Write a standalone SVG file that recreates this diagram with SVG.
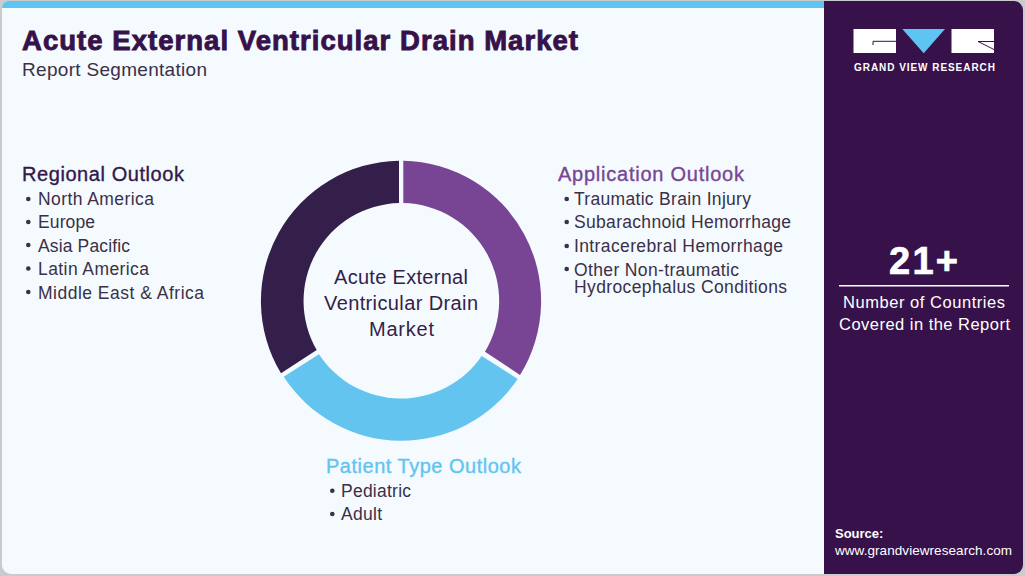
<svg xmlns="http://www.w3.org/2000/svg" width="1025" height="576" viewBox="0 0 1025 576">
<style>
text{font-family:"Liberation Sans",Arial,sans-serif}
.h{font-size:20px;stroke-width:.35px}
.i{font-size:17.5px;fill:#3a3048}
.b{fill:#3a3048}
.c{font-size:20px;fill:#341e4a;text-anchor:middle}
.w{fill:#fff;text-anchor:middle}
</style>
<rect width="1025" height="576" fill="#c9cbcc"/>
<rect x="2" y="1" width="1021" height="573" rx="9" fill="#f4fafd"/>
<path d="M2 9V8a7 7 0 0 1 7-7H824V8H2z" fill="#5ec5f2"/>
<path d="M824 1H1014a9 9 0 0 1 9 9V565a9 9 0 0 1-9 9H824z" fill="#37114a"/>
<text x="22" y="50" font-size="27.5" font-weight="700" fill="#37114a" stroke="#37114a" stroke-width=".9" textLength="556" lengthAdjust="spacing">Acute External Ventricular Drain Market</text>
<text x="22" y="76" font-size="19" fill="#3a3048" textLength="185">Report Segmentation</text>
<g id="connectors"></g>
<g id="donut">
<path fill="#784595" d="M403.300 160.700A140.300 140.300 0 0 1 520 375L485 351.700A98 98 0 0 0 403.300 203z"/>
<path fill="#63c4f0" d="M517.700 379A140.300 140.300 0 0 1 283.700 376.700L319 354.300A98 98 0 0 0 481.700 356z"/>
<path fill="#341e4a" d="M281 373.300A140.300 140.300 0 0 1 399 160.700V203A98 98 0 0 0 316.700 350z"/>
<text class="c" x="401" y="284" textLength="134">Acute External</text>
<text class="c" x="401" y="310" textLength="154">Ventricular Drain</text>
<text class="c" x="401.500" y="336" textLength="65">Market</text>
</g>
<g id="regional">
<text class="h" x="22" y="181" fill="#32194a" stroke="#32194a" textLength="162">Regional Outlook</text>
<circle class="b" cx="28.300" cy="199" r="2.300"/><text class="i" x="38" y="205" textLength="116">North America</text>
<circle class="b" cx="28.300" cy="222" r="2.300"/><text class="i" x="38" y="228" textLength="57">Europe</text>
<circle class="b" cx="28.300" cy="245" r="2.300"/><text class="i" x="38" y="252" textLength="92">Asia Pacific</text>
<circle class="b" cx="28.300" cy="268.500" r="2.300"/><text class="i" x="38" y="275" textLength="111">Latin America</text>
<circle class="b" cx="28.300" cy="292" r="2.300"/><text class="i" x="38" y="299" textLength="166">Middle East &amp; Africa</text>
</g>
<g id="application">
<text class="h" x="558" y="181" fill="#784595" stroke="#784595" textLength="186">Application Outlook</text>
<circle class="b" cx="566.700" cy="199" r="2.300"/><text class="i" x="574" y="205" textLength="177">Traumatic Brain Injury</text>
<circle class="b" cx="566.700" cy="222" r="2.300"/><text class="i" x="574" y="228" textLength="217">Subarachnoid Hemorrhage</text>
<circle class="b" cx="566.700" cy="246" r="2.300"/><text class="i" x="574" y="252" textLength="209">Intracerebral Hemorrhage</text>
<circle class="b" cx="566.700" cy="269" r="2.300"/><text class="i" x="574" y="276" textLength="165">Other Non-traumatic</text>
<text class="i" x="574" y="293" textLength="213">Hydrocephalus Conditions</text>
</g>
<g id="patient">
<text class="h" x="326" y="473" fill="#63c4f0" stroke="#63c4f0" textLength="195">Patient Type Outlook</text>
<circle class="b" cx="332.300" cy="490.700" r="2.300"/><text class="i" x="341" y="497" textLength="70">Pediatric</text>
<circle class="b" cx="332.300" cy="514" r="2.300"/><text class="i" x="341" y="520" textLength="41">Adult</text>
</g>
<g id="logo">
<rect x="853.500" y="29" width="42.500" height="24" fill="#fff"/>
<path d="M873 45V41.300H896" fill="none" stroke="#37114a" stroke-width="1"/>
<path d="M902.300 29H945L923.700 53.300z" fill="#5ec5f2"/>
<rect x="951.500" y="29" width="42.500" height="24" fill="#fff"/>
<path d="M994 41.500H978L994 49.500" fill="none" stroke="#37114a" stroke-width="1"/>
<text x="924.500" y="71" font-size="10" font-weight="700" fill="#fff" text-anchor="middle" textLength="141">GRAND VIEW RESEARCH</text>
</g>
<g id="stat">
<text class="w" x="923.500" y="274" font-size="38" font-weight="700" stroke="#fff" stroke-width=".7" textLength="69">21+</text>
<rect x="839" y="285" width="170" height="1.500" fill="#fff"/>
<text class="w" x="924" y="307.500" font-size="16.500" textLength="162">Number of Countries</text>
<text class="w" x="924.500" y="330" font-size="16.500" textLength="171">Covered in the Report</text>
</g>
<g id="source">
<text x="835" y="538" font-size="13" font-weight="700" fill="#fff">Source:</text>
<text x="835" y="555" font-size="13.500" fill="#fff" textLength="177">www.grandviewresearch.com</text>
</g>
</svg>
